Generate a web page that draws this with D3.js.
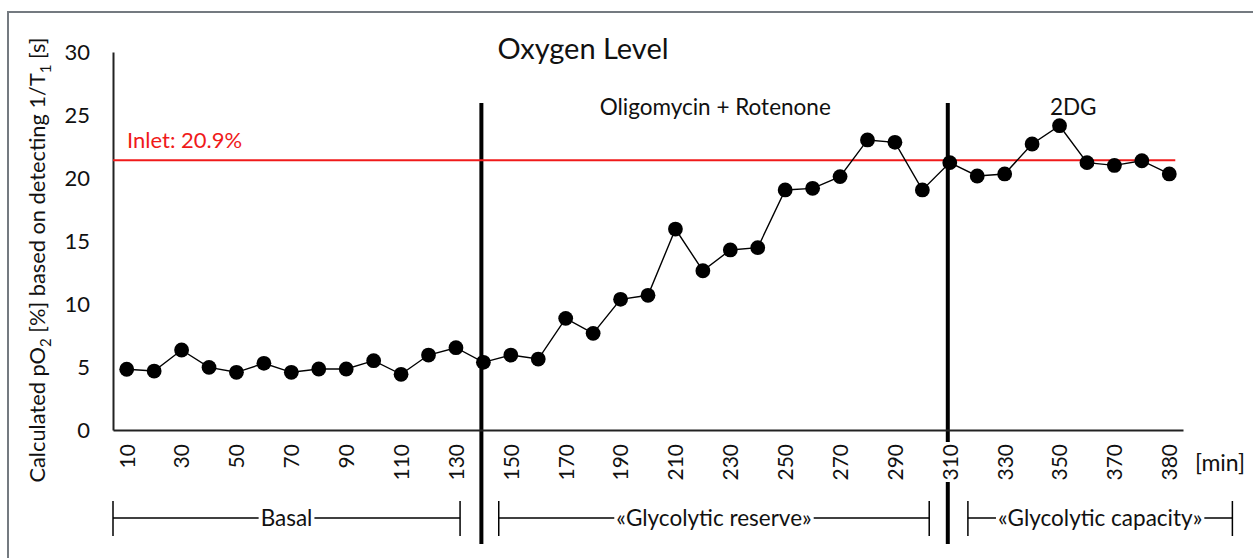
<!doctype html>
<html>
  <head>
    <script src="https://cdn.jsdelivr.net/npm/d3@7"></script>
    <style>
      body { margin: 0; background: #fff; }
      svg text { font-family: Lato, "Noto Sans", sans-serif; fill: #111; }
    </style>
  </head>
  <body>
    <script>
      // time points in minutes (category axis, every second one labelled)
      var minutes = ["10","20","30","40","50","60","70","80","90","100",
                     "110","120","130","140","150","160","170","180","190","200",
                     "210","220","230","240","250","260","270","280","290","300",
                     "310","320","330","340","350","360","370","375","380"];
      // calculated pO2 [%]
      var oxygen = [4.82, 4.68, 6.35, 4.97, 4.58, 5.29, 4.58, 4.84, 4.84, 5.5,
                    4.42, 5.95, 6.53, 5.37, 5.95, 5.63, 8.86, 7.67, 10.37, 10.69,
                    15.95, 12.64, 14.29, 14.47, 19.05, 19.18, 20.11, 23.02, 22.83, 19.05,
                    21.22, 20.16, 20.32, 22.7, 24.15, 21.22, 21.0, 21.37, 20.32];
      var yTicks = [0, 5, 10, 15, 20, 25, 30];
      var inletLevel = 21.4;
      // treatment injections (vertical bars) and their labels
      var injections = ["140", "310"];
      var injectionLabels = [
        {text: "Oligomycin + Rotenone", at: 21.45},
        {text: "2DG", at: 34.5}
      ];
      // phase brackets below the axis, in category index units
      var phases = [
        {label: "Basal", from: -0.5, to: 12.15},
        {label: "«Glycolytic reserve»", from: 13.56, to: 29.25},
        {label: "«Glycolytic capacity»", from: 30.66, to: 40.3}
      ];

      var w_svg = 1253, h_svg = 558;
      var plotLeft = 113, plotRight = 1183, plotTop = 52, plotBottom = 430;

      var svg = d3.select("body").append("svg")
                  .attr("width", w_svg)
                  .attr("height", h_svg);

      // outer frame (only top and left edge show in the picture)
      svg.append("rect")
         .attr("x", 8).attr("y", 12)
         .attr("width", 1300).attr("height", 600)
         .attr("fill", "none")
         .attr("stroke", "#747a80")
         .attr("stroke-width", 2);

      var x = d3.scalePoint().domain(minutes).range([plotLeft, plotRight]).padding(0.5);
      var xIdx = d3.scaleLinear().domain([-0.5, minutes.length - 0.5]).range([plotLeft, plotRight]);
      var y = d3.scaleLinear().domain([0, 30]).range([plotBottom, plotTop]);

      // vertical injection lines
      svg.selectAll(".inj")
         .data(injections)
         .enter().append("line")
         .attr("x1", function(d) { return x(d) - 2; })
         .attr("x2", function(d) { return x(d) - 2; })
         .attr("y1", 103).attr("y2", 544)
         .attr("stroke", "#000")
         .attr("stroke-width", 4);

      // x axis, labels rotated, with white backing so bars get broken by labels
      var xAxis = d3.axisBottom(x)
                    .tickSize(0)
                    .tickValues(minutes.filter(function(d, i) { return i % 2 === 0; }));
      var gx = svg.append("g")
                  .attr("transform", "translate(0," + plotBottom + ")")
                  .call(xAxis);
      gx.select(".domain").attr("stroke", "#222").attr("stroke-width", 2);
      gx.selectAll(".tick text")
        .attr("transform", "rotate(-90)")
        .attr("text-anchor", "end")
        .attr("x", -14).attr("y", 0).attr("dy", "0.35em")
        .style("font-size", "21px");
      gx.selectAll(".tick").insert("rect", "text")
        .attr("x", -10).attr("y", 12)
        .attr("width", 20).attr("height", 40)
        .attr("fill", "#fff");

      // y axis
      var yAxis = d3.axisLeft(y).tickValues(yTicks).tickSize(0);
      var gy = svg.append("g")
                  .attr("transform", "translate(" + plotLeft + ",0)")
                  .call(yAxis);
      gy.select(".domain").attr("stroke", "#222").attr("stroke-width", 2);
      gy.selectAll(".tick text")
        .attr("x", -23)
        .style("font-size", "22px");

      // inlet reference line
      svg.append("line")
         .attr("x1", plotLeft).attr("x2", x("380") + 6)
         .attr("y1", y(inletLevel)).attr("y2", y(inletLevel))
         .attr("stroke", "#f01a1a")
         .attr("stroke-width", 2);
      svg.append("text")
         .attr("x", 127).attr("y", y(inletLevel) - 12)
         .style("fill", "#f01a1a")
         .style("font-size", "22px")
         .text("Inlet: 20.9%");

      // data line and points
      var pts = minutes.map(function(m, i) { return {m: m, v: oxygen[i]}; });
      var line = d3.line()
                   .x(function(d) { return x(d.m); })
                   .y(function(d) { return y(d.v); });
      svg.append("path")
         .datum(pts)
         .attr("d", line)
         .attr("fill", "none")
         .attr("stroke", "#000")
         .attr("stroke-width", 1.4);
      svg.selectAll(".pt")
         .data(pts)
         .enter().append("circle")
         .attr("cx", function(d) { return x(d.m); })
         .attr("cy", function(d) { return y(d.v); })
         .attr("r", 7.4)
         .attr("fill", "#000");

      // titles
      svg.append("text")
         .attr("x", 583).attr("y", 59)
         .attr("text-anchor", "middle")
         .style("font-size", "29px")
         .text("Oxygen Level");
      svg.selectAll(".injlab")
         .data(injectionLabels)
         .enter().append("text")
         .attr("x", function(d) { return xIdx(d.at); })
         .attr("y", 115)
         .attr("text-anchor", "middle")
         .style("font-size", "22.5px")
         .text(function(d) { return d.text; });

      svg.append("text")
         .attr("transform", "translate(37," + 260 + ") rotate(-90)")
         .attr("text-anchor", "middle")
         .attr("dy", "0.35em")
         .style("font-size", "21.8px")
         .html('Calculated pO<tspan dy="6" font-size="15">2</tspan><tspan dy="-6"> [%] based on detecting 1/T</tspan><tspan dy="6" font-size="15">1</tspan><tspan dy="-6"> [s]</tspan>');

      svg.append("text")
         .attr("x", 1220).attr("y", 463)
         .attr("text-anchor", "middle")
         .attr("dy", "0.35em")
         .style("font-size", "23px")
         .text("[min]");

      // phase brackets
      var bracketY = 518;
      var br = svg.selectAll(".phase")
                  .data(phases)
                  .enter().append("g");
      br.append("line")
        .attr("x1", function(d) { return xIdx(d.from); })
        .attr("x2", function(d) { return xIdx(d.to); })
        .attr("y1", bracketY).attr("y2", bracketY)
        .attr("stroke", "#000").attr("stroke-width", 1.5);
      br.append("line")
        .attr("x1", function(d) { return xIdx(d.from); })
        .attr("x2", function(d) { return xIdx(d.from); })
        .attr("y1", bracketY - 17).attr("y2", bracketY + 18)
        .attr("stroke", "#000").attr("stroke-width", 1.5);
      br.append("line")
        .attr("x1", function(d) { return xIdx(d.to); })
        .attr("x2", function(d) { return xIdx(d.to); })
        .attr("y1", bracketY - 17).attr("y2", bracketY + 18)
        .attr("stroke", "#000").attr("stroke-width", 1.5);
      var brText = br.append("text")
        .attr("x", function(d) { return (xIdx(d.from) + xIdx(d.to)) / 2; })
        .attr("y", bracketY)
        .attr("dy", "0.35em")
        .attr("text-anchor", "middle")
        .style("font-size", "22.5px")
        .text(function(d) { return d.label; });
      // white gap in the bracket line behind each label
      brText.each(function() {
        var b = this.getBBox();
        d3.select(this.parentNode).insert("rect", "text")
          .attr("x", b.x - 2).attr("y", bracketY - 3)
          .attr("width", b.width + 4).attr("height", 6)
          .attr("fill", "#fff");
      });
    </script>
  </body>
</html>
